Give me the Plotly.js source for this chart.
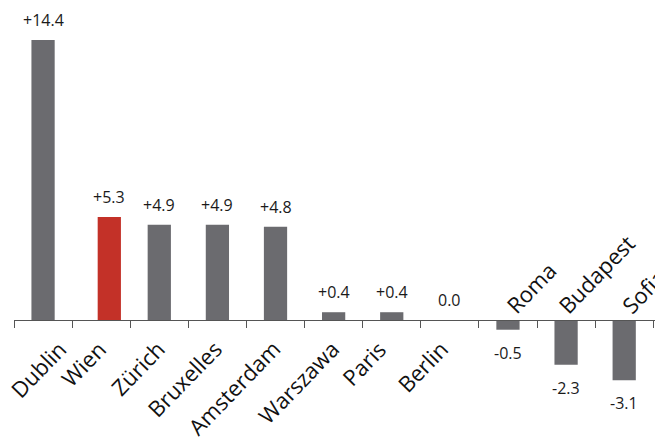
<!DOCTYPE html>
<html>
<head>
<meta charset="utf-8">
<script src="https://cdn.plot.ly/plotly-3.0.1.min.js"></script>
<style>html,body{margin:0;padding:0;background:#fff;}#chart{width:655px;height:437px;}</style>
</head>
<body>
<div id="chart"></div>
<script>
const cities = ["Dublin","Wien","Zürich","Bruxelles","Amsterdam","Warszawa","Paris","Berlin","Roma","Budapest","Sofia"];
const changes = [14.4, 5.3, 4.9, 4.9, 4.8, 0.4, 0.4, 0.0, -0.5, -2.3, -3.1];
const valueLabels = ["+14.4","+5.3","+4.9","+4.9","+4.8","+0.4","+0.4","0.0","-0.5","-2.3","-3.1"];
const highlight = "Wien";

const GRAY = "#6b6b6f", RED = "#c33128";
const barWidth = 0.4;
const hlShift = 0.14; // highlighted bar sits slightly right of its slot
// small hand-placement nudges of rotated category labels (pixels)
const labelNudge = {Dublin: 18, Paris: -11, Berlin: -7, Budapest: -6};

const trace = {
  type: "bar",
  x: cities,
  y: changes,
  width: barWidth,
  offset: cities.map(c => c === highlight ? -barWidth/2 + hlShift : -barWidth/2),
  marker: {color: cities.map(c => c === highlight ? RED : GRAY), line: {width: 0}},
  hoverinfo: "none"
};

const valueFont = {family: "Liberation Sans Narrow, Open Sans, sans-serif", size: 16, color: "#1a1a1a"};
const catFont = {family: "Open Sans, sans-serif", size: 22, color: "#111"};

const annotations = [];
cities.forEach((c, i) => {
  const v = changes[i];
  const pxShift = c === highlight ? 8 : 0;
  const nudge = labelNudge[c] || 0;
  annotations.push({
    x: c, y: v, xref: "x", yref: "y",
    text: valueLabels[i], showarrow: false,
    xanchor: "center", yanchor: "middle",
    xshift: pxShift, yshift: v >= 0 ? 20 : -23,
    font: valueFont
  });
  if (v >= 0) {
    annotations.push({
      x: c, y: 0, xref: "x", yref: "y",
      text: c, showarrow: false, textangle: -46,
      xanchor: "right", yanchor: "top",
      xshift: 14 + nudge, yshift: -11,
      font: catFont
    });
  } else {
    annotations.push({
      x: c, y: 0, xref: "x", yref: "y",
      text: c, showarrow: false, textangle: -46,
      xanchor: "left", yanchor: "bottom",
      xshift: -12 + nudge, yshift: -2,
      font: catFont
    });
  }
});

const layout = {
  width: 655, height: 437,
  margin: {l: 14, r: 0, t: 0, b: 37, pad: 0},
  paper_bgcolor: "#fff", plot_bgcolor: "#fff",
  showlegend: false,
  xaxis: {
    type: "category",
    range: [-0.5, 10.53],
    anchor: "free", position: 0.2,
    showline: true, linecolor: "#555", linewidth: 1,
    ticks: "outside", tickson: "boundaries", ticklen: 7, tickcolor: "#555", tickwidth: 1,
    showticklabels: false, showgrid: false, zeroline: false, fixedrange: true
  },
  yaxis: {
    range: [-4.115, 16.46],
    visible: false, showgrid: false, zeroline: false, fixedrange: true
  },
  annotations: annotations
};

Plotly.newPlot("chart", [trace], layout, {staticPlot: true, displayModeBar: false});
</script>
</body>
</html>
